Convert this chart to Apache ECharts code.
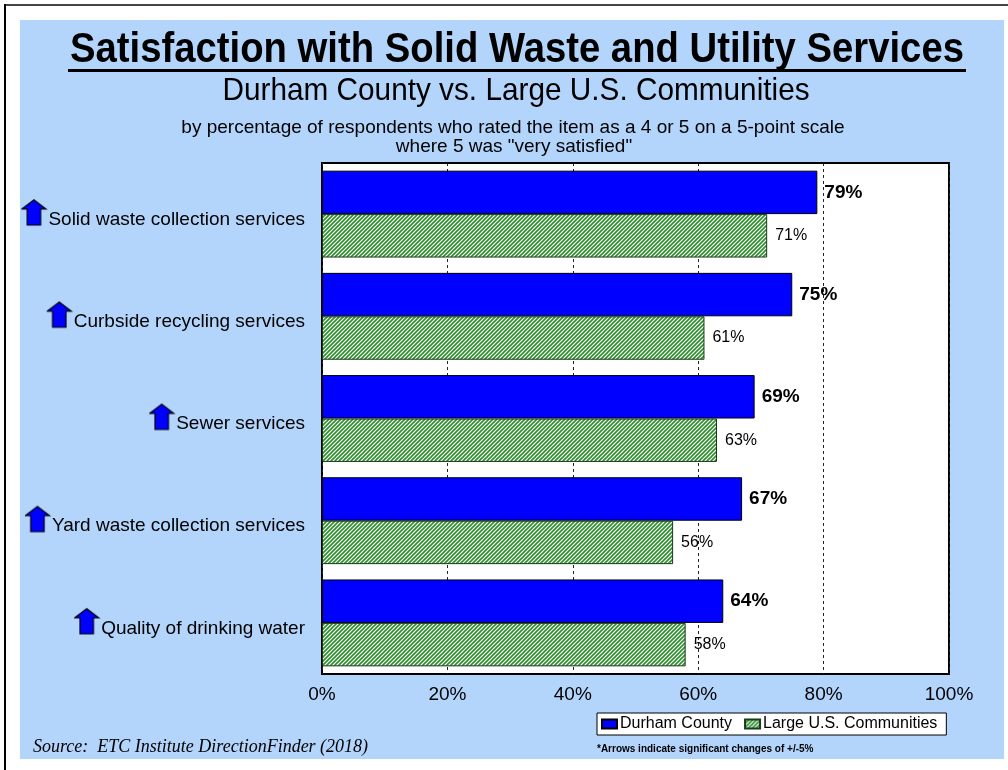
<!DOCTYPE html>
<html>
<head>
<meta charset="utf-8">
<script src="https://cdn.jsdelivr.net/npm/echarts@6/dist/echarts.min.js"></script>
<style>
html,body{margin:0;padding:0;background:#fff;}
#chart{width:1008px;height:770px;}
</style>
</head>
<body>
<div id="chart"></div>
<script>
// ---- data ----
const categories = [
  'Solid waste collection services',
  'Curbside recycling services',
  'Sewer services',
  'Yard waste collection services',
  'Quality of drinking water'
];
const arrowFlags = ['up', 'up', 'up', 'up', 'up'];
const durham = [79, 75, 69, 67, 64];
const largeUS = [71, 61, 63, 56, 58];
const seriesNames = ['Durham County', 'Large U.S. Communities'];
const xTicks = [0, 20, 40, 60, 80, 100];

const FONT = '"Liberation Sans", Arial, Helvetica, sans-serif';

// hatch pattern for Large U.S. Communities
function makeHatch() {
  const c = document.createElement('canvas');
  const p = 4;
  c.width = p; c.height = p;
  const g = c.getContext('2d');
  g.fillStyle = '#ffffff';
  g.fillRect(0, 0, p, p);
  g.strokeStyle = '#2a8f2a';
  g.lineWidth = 1.6;
  g.beginPath();
  g.moveTo(-1, p + 1); g.lineTo(p + 1, -1);
  g.moveTo(-1, 1); g.lineTo(1, -1);
  g.moveTo(p - 1, p + 1); g.lineTo(p + 1, p - 1);
  g.stroke();
  return c;
}
// blue up arrow icon
function makeArrow() {
  const c = document.createElement('canvas');
  c.width = 28; c.height = 30;
  const g = c.getContext('2d');
  g.fillStyle = '#0000ff';
  g.strokeStyle = '#000';
  g.lineWidth = 1.2;
  g.beginPath();
  g.moveTo(13, 0.8);
  g.lineTo(25.5, 10);
  g.lineTo(20, 10);
  g.lineTo(20, 26);
  g.lineTo(6, 26);
  g.lineTo(6, 10);
  g.lineTo(0.5, 10);
  g.closePath();
  g.fill();
  g.stroke();
  return c;
}
const hatch = makeHatch();
const arrowImg = makeArrow();

const chart = echarts.init(document.getElementById('chart'), null, {renderer: 'canvas'});

const option = {
  backgroundColor: '#ffffff',
  animation: false,
  graphic: [
    {type: 'rect', z: -10, shape: {x: 20, y: 20, width: 984, height: 739}, style: {fill: '#b3d5fc'}},
    {type: 'line', z: -9, shape: {x1: 5, y1: 5, x2: 1008, y2: 5}, style: {stroke: '#444', lineWidth: 2}},
    {type: 'line', z: -9, shape: {x1: 5, y1: 4, x2: 5, y2: 770}, style: {stroke: '#000', lineWidth: 2}},
    {type: 'text', x: 517, y: 50, scaleX: 0.89, style: {text: 'Satisfaction with Solid Waste and Utility Services', fill: '#000',
      font: 'bold 43px ' + FONT, textAlign: 'center', textVerticalAlign: 'middle'}},
    {type: 'line', shape: {x1: 68, y1: 70.5, x2: 966, y2: 70.5}, style: {stroke: '#000', lineWidth: 3}},
    {type: 'text', x: 516, y: 91, scaleX: 0.93, style: {text: 'Durham County vs. Large U.S. Communities', fill: '#000',
      font: '32px ' + FONT, textAlign: 'center', textVerticalAlign: 'middle'}},
    {type: 'text', x: 513, y: 128, style: {text: 'by percentage of respondents who rated the item as a 4 or 5 on a 5-point scale', fill: '#000',
      font: '19px ' + FONT, textAlign: 'center', textVerticalAlign: 'middle'}},
    {type: 'text', x: 514, y: 147, style: {text: 'where 5 was "very satisfied"', fill: '#000',
      font: '19px ' + FONT, textAlign: 'center', textVerticalAlign: 'middle'}},
    {type: 'text', x: 33, y: 747, style: {text: 'Source:  ETC Institute DirectionFinder (2018)', fill: '#000',
      font: 'italic 18px "Liberation Serif", "Times New Roman", serif', textAlign: 'left', textVerticalAlign: 'middle'}},
    {type: 'text', x: 597, y: 749, style: {text: '*Arrows indicate significant changes of +/-5%', fill: '#000',
      font: 'bold 10px ' + FONT, textAlign: 'left', textVerticalAlign: 'middle'}}
  ],
  legend: {
    left: 597, top: 713,
    padding: [3, 9, 3, 4],
    itemGap: 12,
    itemWidth: 15, itemHeight: 9,
    backgroundColor: '#ffffff',
    borderColor: '#000', borderWidth: 1,
    borderRadius: 0,
    icon: 'rect',
    textStyle: {fontFamily: FONT, fontSize: 16, color: '#000', padding: [0, 0, 0, -2]},
    data: seriesNames
  },
  grid: {
    left: 322, right: 59, top: 163, bottom: 96,
    show: true, backgroundColor: '#ffffff', borderColor: '#000', borderWidth: 2,
    containLabel: false
  },
  xAxis: {
    type: 'value', min: xTicks[0], max: xTicks[xTicks.length - 1], interval: 20,
    axisLine: {show: false}, axisTick: {show: false},
    axisLabel: {formatter: v => v + '%', fontFamily: FONT, fontSize: 19, color: '#000', margin: 11},
    splitLine: {show: true, lineStyle: {color: '#222', width: 1, type: [3, 3]}}
  },
  yAxis: {
    type: 'category', inverse: true, data: categories,
    axisLine: {show: false}, axisTick: {show: false},
    axisLabel: {
      margin: 17,
      formatter: (v, i) => (arrowFlags[i] === 'up' ? '{a|}' : '') + '{t|' + v + '}',
      rich: {
        a: {backgroundColor: {image: arrowImg}, width: 27, height: 30, verticalAlign: 'bottom'},
        t: {fontFamily: FONT, fontSize: 19, color: '#000', lineHeight: 22, verticalAlign: 'bottom'}
      }
    },
    splitLine: {show: false}
  },
  series: [
    {
      name: seriesNames[0], type: 'bar', data: durham,
      barGap: '0%', barCategoryGap: '15%',
      itemStyle: {color: '#0000ff', borderColor: '#000', borderWidth: 1},
      label: {show: true, position: 'right', distance: 7, formatter: '{c}%',
        fontFamily: FONT, fontSize: 19, fontWeight: 'bold', color: '#000'}
    },
    {
      name: seriesNames[1], type: 'bar', data: largeUS,
      barGap: '0%', barCategoryGap: '15%',
      itemStyle: {color: {image: hatch, repeat: 'repeat'}, borderColor: '#1a3a1a', borderWidth: 1},
      label: {show: true, position: 'right', distance: 8, formatter: '{c}%',
        fontFamily: FONT, fontSize: 16, color: '#000'}
    }
  ]
};
chart.setOption(option);
</script>
</body>
</html>
